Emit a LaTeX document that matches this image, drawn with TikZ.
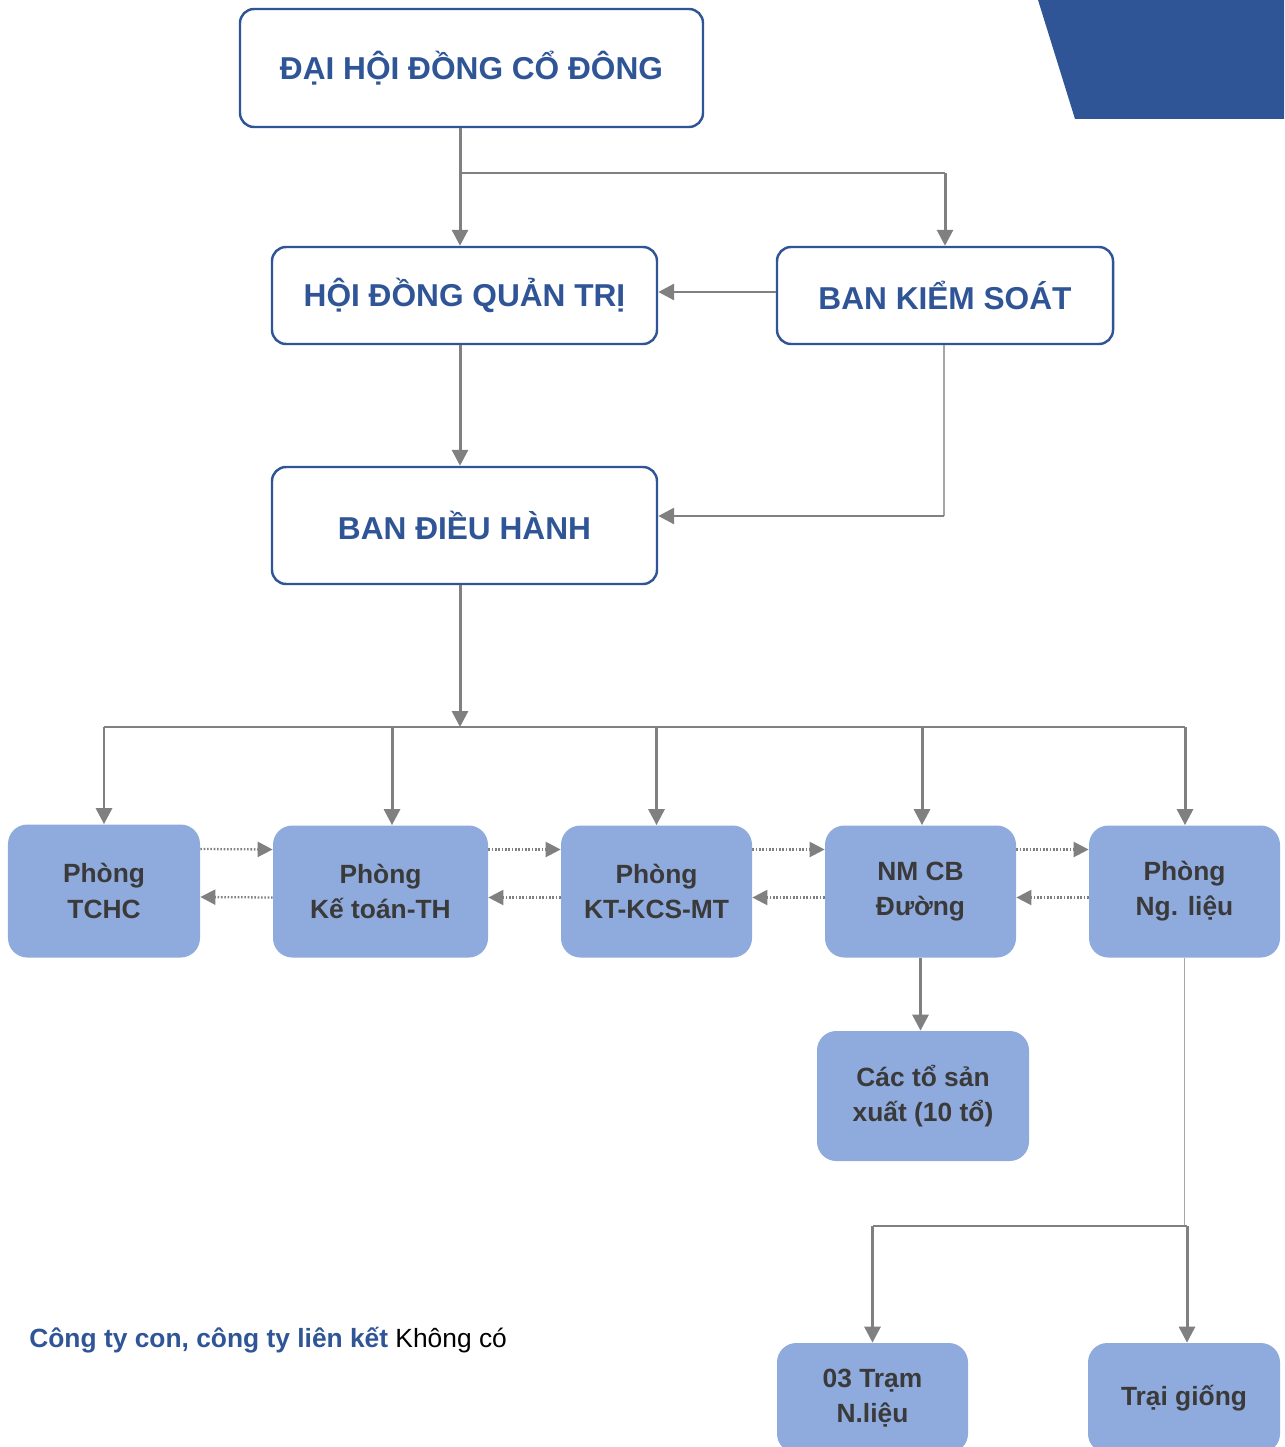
\documentclass[tikz,border=0pt]{standalone}
\usepackage{fontspec}
\setmainfont{Liberation Sans}
\definecolor{boardBlue}{RGB}{47, 85, 151}
\definecolor{deptBlue}{RGB}{143, 170, 220}
\definecolor{linkGray}{RGB}{128, 128, 128}
\definecolor{textGray}{RGB}{58, 58, 58}
\usetikzlibrary{arrows.meta}

\tikzset{
  topbox/.style={draw=boardBlue, line width=1.4pt, fill=white, rounded corners=8pt,
    text=boardBlue, font=\fontsize{18}{22}\selectfont\bfseries, inner sep=0pt},
  deptbox/.style={fill=deptBlue, rounded corners=11pt, text=textGray, align=center,
    font=\fontsize{15}{20}\selectfont\bfseries, inner sep=0pt},
  link/.style={draw=linkGray, line width=1.7pt, -{Triangle[length=3.2mm, width=3.2mm]}},
  bus/.style={draw=linkGray, line width=0.8pt},
  dotlink/.style={draw=linkGray, line width=1.3pt, dash pattern=on 0.9pt off 1pt,
    -{Triangle[length=3mm, width=3mm]}}
}

\begin{document}
\begin{tikzpicture}[x=0.2mm, y=-0.2mm]

\useasboundingbox (0,0) rectangle (1284,1447);
\clip (0,0) rectangle (1284,1447);

%%% CORNER BAND
\fill[boardBlue] (1038,0) -- (1284,0) -- (1284,119) -- (1075,119) -- cycle;

%%% BOARDS
\node[topbox, minimum width=92.6mm, minimum height=23.6mm] (dhdcd) at (471.5,68) {ĐẠI HỘI ĐỒNG CỔ ĐÔNG};
\node[topbox, minimum width=77mm, minimum height=19.4mm] (hdqt) at (464.5,295.5) {HỘI ĐỒNG QUẢN TRỊ};
\node[topbox, minimum width=67.2mm, minimum height=19.4mm] (bks) at (945,295.5) {BAN KIỂM SOÁT};
\node[topbox, minimum width=77mm, minimum height=23.4mm] (bdh) at (464.5,525.5) {BAN ĐIỀU HÀNH};

%%% DEPARTMENTS
\node[deptbox, minimum width=38.4mm, minimum height=26.6mm] (tchc) at (104,891) {Phòng\\TCHC};
\node[deptbox, minimum width=43mm, minimum height=26.4mm] (ketoan) at (380.5,891.5) {Phòng\\Kế toán-TH};
\node[deptbox, minimum width=38.2mm, minimum height=26.4mm] (ktkcs) at (656.5,891.5) {Phòng\\KT-KCS-MT};
\node[deptbox, minimum width=38.2mm, minimum height=26.4mm] (nmcb) at (920.5,891.5) {NM CB\\Đường};
\node[deptbox, minimum width=38.2mm, minimum height=26.4mm] (nglieu) at (1184.5,891.5) {Phòng\\Ng. liệu};

\node[deptbox, minimum width=42.4mm, minimum height=26mm] (cacto) at (923,1096) {Các tổ sản\\xuất (10 tổ)};
\node[deptbox, minimum width=38.2mm, minimum height=22mm] (tram) at (872.5,1398) {03 Trạm\\N.liệu};
\node[deptbox, minimum width=38.4mm, minimum height=22mm] (trai) at (1184,1398) {Trại giống};

%%% JUNCTIONS
\coordinate (j1) at (460,173);
\coordinate (j2) at (944,516);
\coordinate (j3) at (460,727);
\coordinate (j4) at (1187,1226);

%%% TOP LINKS
\draw[link] (dhdcd.south -| j1) -- (hdqt.north -| j1);
\draw[bus] (j1) -- (j1 -| bks.north);
\draw[link] (j1 -| bks.north) -- (bks.north);
\draw[link] ([yshift=0.7mm]bks.west) -- ([yshift=0.7mm]hdqt.east);
\draw[link] (hdqt.south -| j1) -- (bdh.north -| j1);
\draw[bus, draw=linkGray!70] (bks.south -| j2) -- (j2);
\draw[link] (j2) -- (j2 -| bdh.east);

%%% DEPARTMENT LINKS
\draw[link] (bdh.south -| j3) -- (j3);
\draw[bus] (tchc.north |- j3) -- (nglieu.north |- j3);
\foreach \d/\s in {tchc/0, ketoan/2.3, ktkcs/0, nmcb/0.3, nglieu/0.1}
  \draw[link] ([xshift=\s mm]\d.north |- j3) -- ([xshift=\s mm]\d.north);

\foreach \a/\b in {tchc/ketoan, ketoan/ktkcs, ktkcs/nmcb, nmcb/nglieu} {
  \draw[dotlink] ([yshift=8.4mm]\a.east) -- ([yshift=8.4mm]\b.west);
  \draw[dotlink] ([yshift=-1.2mm]\b.west) -- ([yshift=-1.2mm]\a.east);
}

\draw[link] (nmcb.south) -- (nmcb.south |- cacto.north);

\draw[bus, draw=linkGray!70] (nglieu.south) -- (nglieu.south |- j4);
\draw[bus] (j4) -- (j4 -| tram.north);
\draw[link] (j4 -| tram.north) -- (tram.north);
\draw[link] (j4) -- (j4 |- trai.north);

%%% NOTE
\node[anchor=west, font=\fontsize{15}{18}\selectfont, inner sep=0pt] (note) at (29,1340)
  {{\color{boardBlue}\bfseries Công ty con, công ty liên kết} Không có};

\end{tikzpicture}
\end{document}
